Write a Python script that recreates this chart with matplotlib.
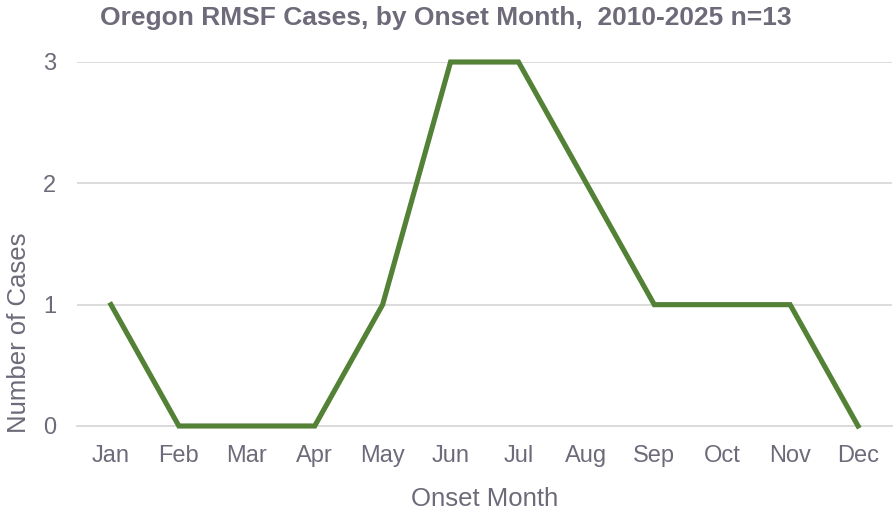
import matplotlib
matplotlib.use("Agg")
import matplotlib.pyplot as plt

months = ["Jan", "Feb", "Mar", "Apr", "May", "Jun", "Jul", "Aug", "Sep", "Oct", "Nov", "Dec"]
cases = [1, 0, 0, 0, 1, 3, 3, 2, 1, 1, 1, 0]

txt = "#6e6a7a"
plt.rcParams["font.family"] = ["Liberation Sans", "DejaVu Sans"]

fig = plt.figure(figsize=(8.93, 5.15), dpi=100)
ax = fig.add_axes([77 / 893, 1 - 426 / 515, 815 / 893, 364 / 515])

x = list(range(len(months)))
ax.plot(x, cases, color="#538135", linewidth=3.7, solid_joinstyle="miter", zorder=3, clip_on=False)

ax.set_xlim(-0.5, 11.5)
ax.set_ylim(0, 3)
ax.set_yticks([0, 1, 2, 3])
ax.set_xticks(x)
ax.set_xticklabels(months)
ax.grid(axis="y", color="#d9d9d9", linewidth=1.3)
ax.set_axisbelow(True)
for s in ax.spines.values():
    s.set_visible(False)
ax.spines["bottom"].set_visible(True)
ax.spines["bottom"].set_color("#d9d9d9")
ax.spines["bottom"].set_linewidth(1.3)
ax.tick_params(axis="both", length=0, colors=txt, labelsize=17)
ax.tick_params(axis="x", pad=14)
ax.tick_params(axis="y", pad=15)

ax.set_xlabel("Onset Month", fontsize=18.5, color=txt, labelpad=14)
# label sits low in the original, not centred on the axis
ax.set_ylabel("Number of Cases", fontsize=18.5, color=txt, labelpad=9, y=0.255)

fig.text(446 / 893, 1 - 18 / 515, "Oregon RMSF Cases, by Onset Month,  2010-2025 n=13",
         ha="center", va="center", fontsize=19, fontweight="bold", color=txt)

fig.savefig("out.png", dpi=100)
